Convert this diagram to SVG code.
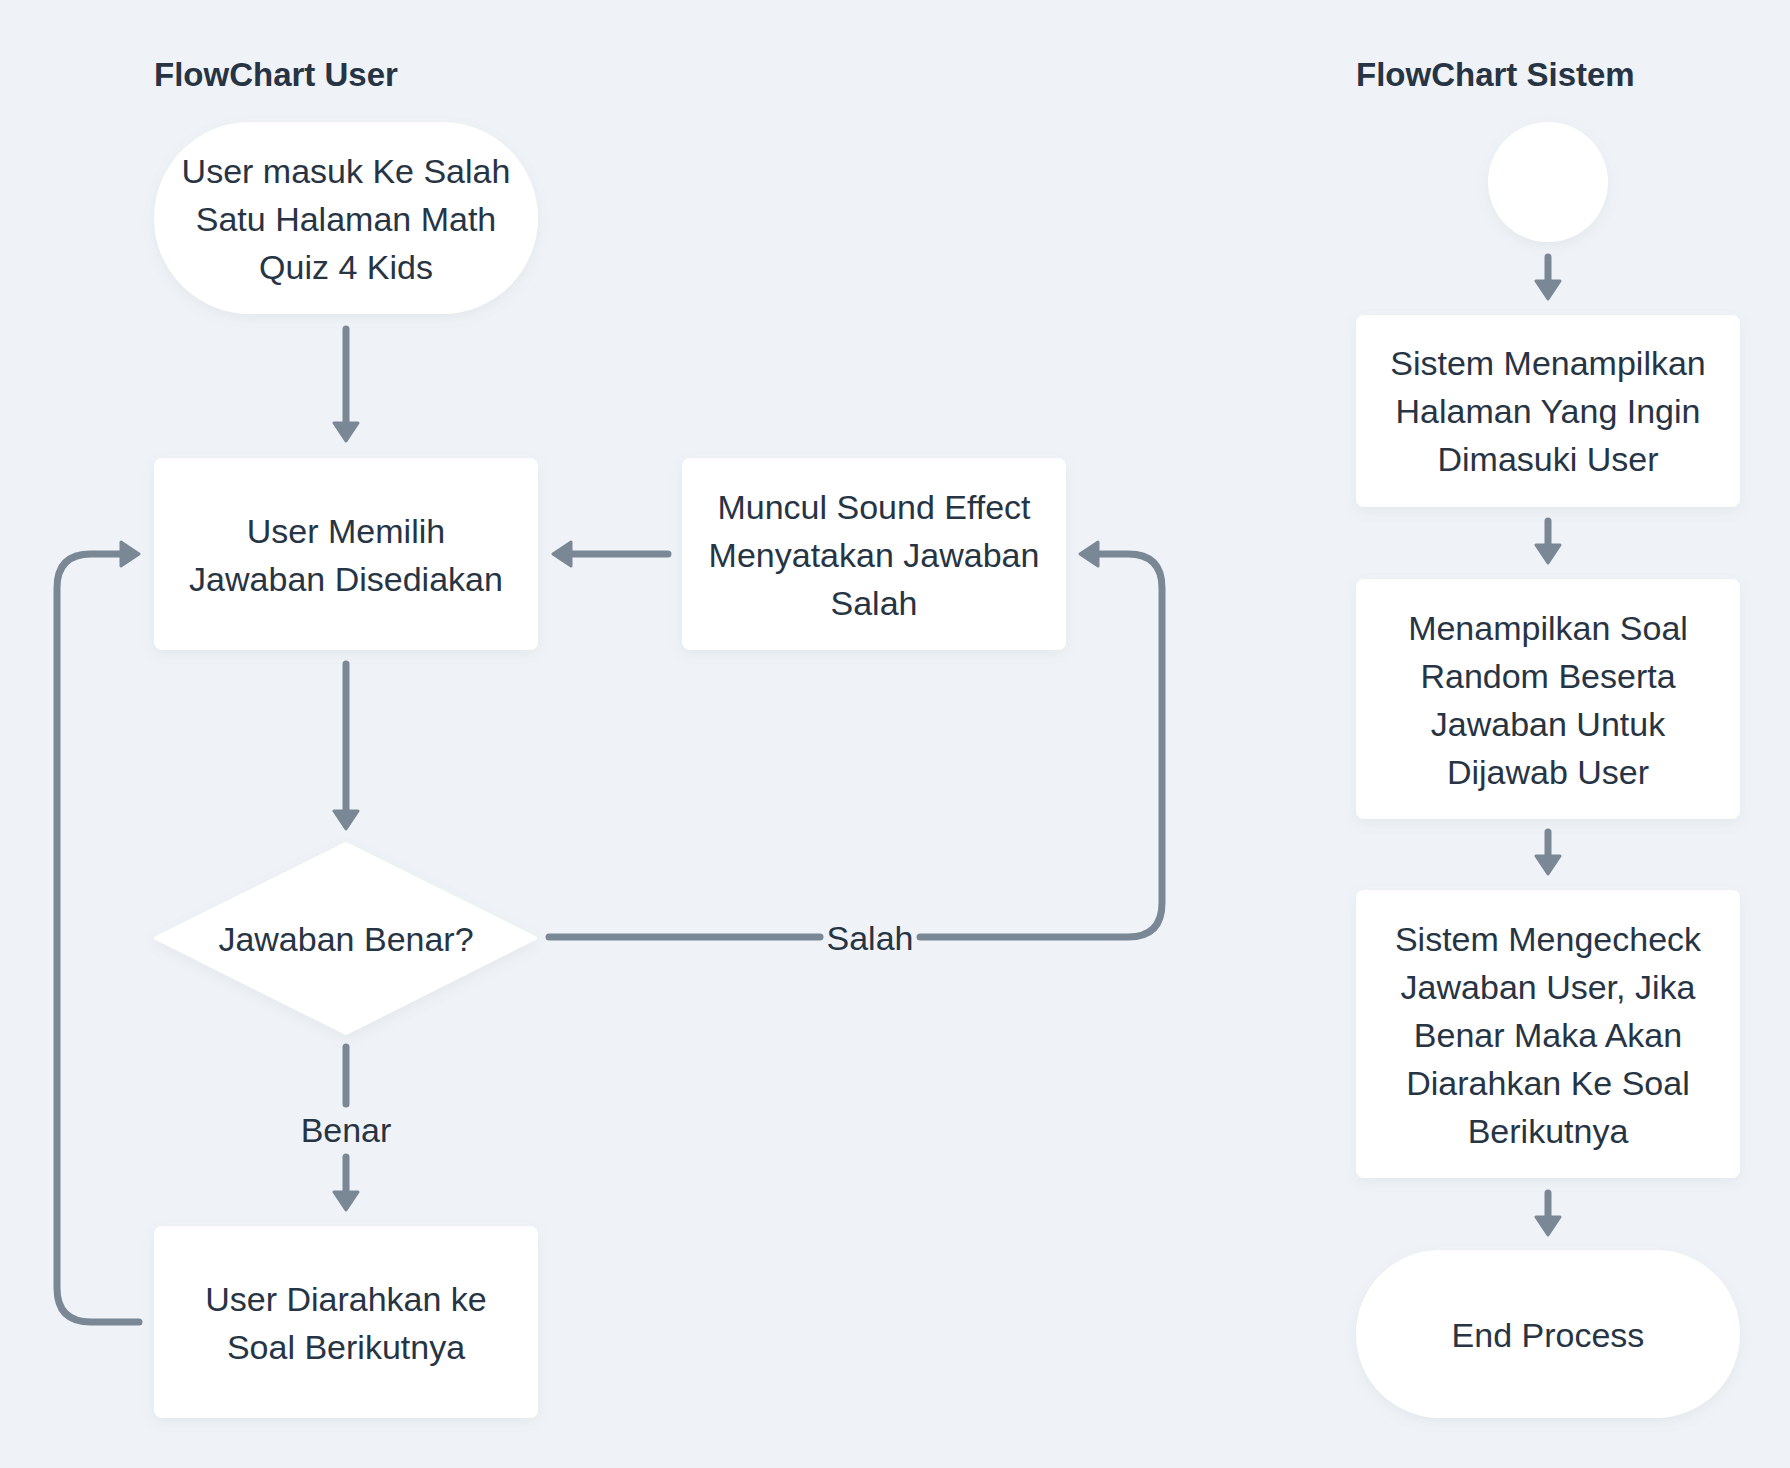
<svg xmlns="http://www.w3.org/2000/svg" width="1790" height="1468" viewBox="0 0 1790 1468">
<style>
.t{font-family:"Liberation Sans",Arial,sans-serif;font-size:34px;fill:#273444;text-anchor:middle}
.h{font-family:"Liberation Sans",Arial,sans-serif;font-size:33px;font-weight:bold;fill:#273444}
.n{fill:#ffffff;filter:url(#sh)}
.c{fill:none;stroke:#7a8896;stroke-width:7;stroke-linecap:round;stroke-linejoin:round}
.a{marker-end:url(#ah)}
</style>
<defs>
<filter id="sh" x="-20%" y="-20%" width="140%" height="140%">
<feDropShadow dx="0" dy="4" stdDeviation="6" flood-color="#7a8896" flood-opacity="0.10"/>
</filter>
<marker id="ah" markerUnits="userSpaceOnUse" viewBox="-2 -2 24 28" markerWidth="24" markerHeight="28" refX="8" refY="12" orient="auto">
<path d="M0,0 L18,12 L0,24 Z" fill="#7a8896" stroke="#7a8896" stroke-width="3" stroke-linejoin="round"/>
</marker>
</defs>
<rect x="0" y="0" width="1790" height="1468" fill="#eff3f7"/>
<text class="h" x="154" y="86">FlowChart User</text>
<text class="h" x="1356" y="86">FlowChart Sistem</text>
<g id="connectors">
<path class="c a" d="M346 329 L346 431"/>
<path class="c a" d="M346 664 L346 819"/>
<path class="c a" d="M668 554 L563 554"/>
<path class="c" d="M549 937 L820 937"/>
<path class="c a" d="M920 937 L1128 937 Q1162 937 1162 903 L1162 588 Q1162 554 1128 554 L1090 554"/>
<path class="c" d="M346 1047 L346 1104"/>
<path class="c a" d="M346 1157 L346 1200"/>
<path class="c a" d="M139 1322 L91 1322 Q57 1322 57 1288 L57 588 Q57 554 91 554 L129 554"/>
<path class="c a" d="M1548 257 L1548 289"/>
<path class="c a" d="M1548 521 L1548 553"/>
<path class="c a" d="M1548 832 L1548 864"/>
<path class="c a" d="M1548 1193 L1548 1225"/>
<text class="t" x="870" y="950">Salah</text>
<text class="t" x="346" y="1142">Benar</text>
</g>
<g id="start-user">
<rect class="n" x="154" y="122" width="384" height="192" rx="96"/>
<text class="t" x="346" y="183">User masuk Ke Salah</text>
<text class="t" x="346" y="231">Satu Halaman Math</text>
<text class="t" x="346" y="279">Quiz 4 Kids</text>
</g>
<g id="memilih">
<rect class="n" x="154" y="458" width="384" height="192" rx="8"/>
<text class="t" x="346" y="543">User Memilih</text>
<text class="t" x="346" y="591">Jawaban Disediakan</text>
</g>
<g id="muncul">
<rect class="n" x="682" y="458" width="384" height="192" rx="8"/>
<text class="t" x="874" y="519">Muncul Sound Effect</text>
<text class="t" x="874" y="567">Menyatakan Jawaban</text>
<text class="t" x="874" y="615">Salah</text>
</g>
<g id="decision">
<path class="n" d="M346 844 L535 938 L346 1033 L156 938 Z" stroke="#ffffff" stroke-width="4" stroke-linejoin="round"/>
<text class="t" x="346" y="951">Jawaban Benar?</text>
</g>
<g id="diarahkan">
<rect class="n" x="154" y="1226" width="384" height="192" rx="8"/>
<text class="t" x="346" y="1311">User Diarahkan ke</text>
<text class="t" x="346" y="1359">Soal Berikutnya</text>
</g>
<g id="start-sistem">
<circle class="n" cx="1548" cy="182" r="60"/>
</g>
<g id="tampil-halaman">
<rect class="n" x="1356" y="315" width="384" height="192" rx="8"/>
<text class="t" x="1548" y="375">Sistem Menampilkan</text>
<text class="t" x="1548" y="423">Halaman Yang Ingin</text>
<text class="t" x="1548" y="471">Dimasuki User</text>
</g>
<g id="tampil-soal">
<rect class="n" x="1356" y="579" width="384" height="240" rx="8"/>
<text class="t" x="1548" y="640">Menampilkan Soal</text>
<text class="t" x="1548" y="688">Random Beserta</text>
<text class="t" x="1548" y="736">Jawaban Untuk</text>
<text class="t" x="1548" y="784">Dijawab User</text>
</g>
<g id="cek">
<rect class="n" x="1356" y="890" width="384" height="288" rx="8"/>
<text class="t" x="1548" y="951">Sistem Mengecheck</text>
<text class="t" x="1548" y="999">Jawaban User, Jika</text>
<text class="t" x="1548" y="1047">Benar Maka Akan</text>
<text class="t" x="1548" y="1095">Diarahkan Ke Soal</text>
<text class="t" x="1548" y="1143">Berikutnya</text>
</g>
<g id="end">
<rect class="n" x="1356" y="1250" width="384" height="168" rx="84"/>
<text class="t" x="1548" y="1347">End Process</text>
</g>
</svg>
